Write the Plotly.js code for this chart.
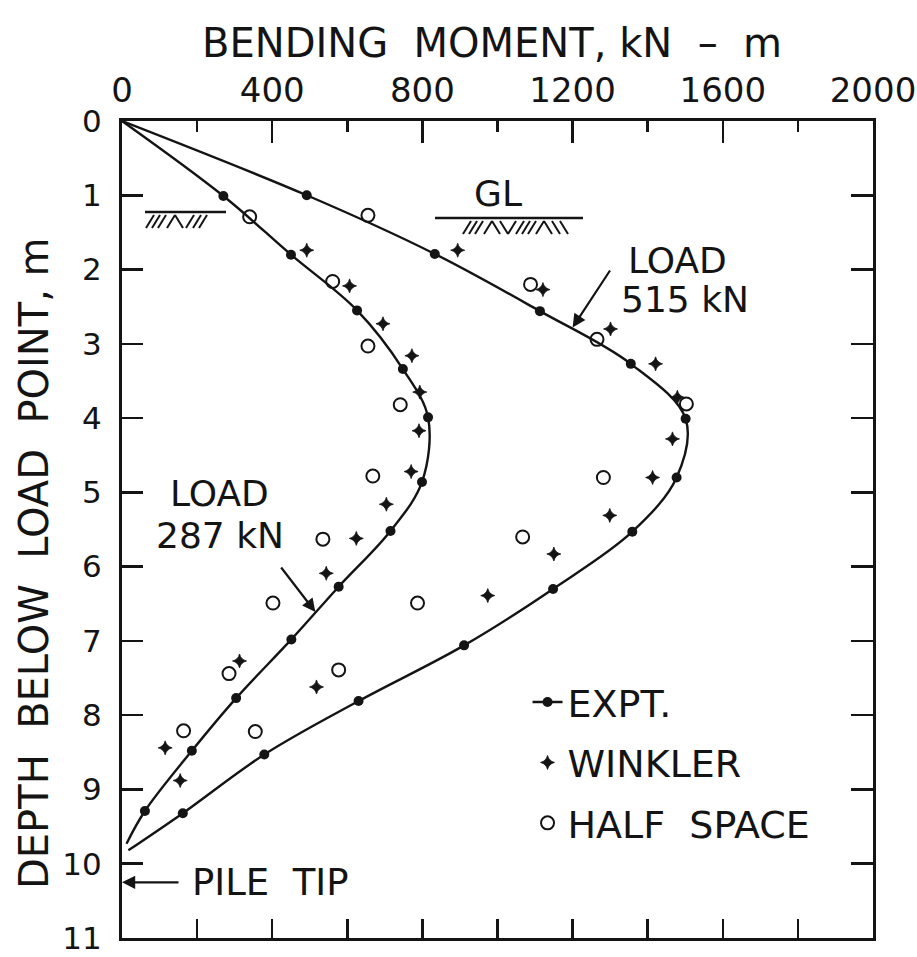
<!DOCTYPE html>
<html>
<head>
<meta charset="utf-8">
<script src="https://cdn.plot.ly/plotly-3.0.1.min.js"></script>
<style>
  html, body { margin: 0; padding: 0; background: #fff; }
  #chart { width: 917px; height: 957px; }
</style>
</head>
<body>
<div id="chart"></div>
<script>
// ---------------- data ----------------
// bending moment in kN-m, depth below load point in m
const curveStart = [0, 0];            // both measured curves start at the load point
const tip287 = [12, 9.73];            // end of the 287 kN curve
const tip515 = [17, 9.82];            // end of the 515 kN curve

const expt287M = [270, 450, 626, 748, 815, 799, 715, 577, 451, 304, 186, 61];
const expt287D = [1.01, 1.80, 2.55, 3.34, 3.99, 4.86, 5.52, 6.27, 6.98, 7.77, 8.48, 9.29];

const expt515M = [492, 833, 1113, 1355, 1501, 1477, 1359, 1148, 911, 630, 379, 162];
const expt515D = [1.00, 1.79, 2.56, 3.27, 4.01, 4.80, 5.53, 6.30, 7.06, 7.81, 8.53, 9.32];

const wink287M = [492, 606, 695, 772, 793, 791, 770, 704, 624, 544, 313, 115, 155];
const wink287D = [1.74, 2.22, 2.73, 3.16, 3.65, 4.17, 4.72, 5.16, 5.62, 6.09, 7.27, 8.44, 8.88];

const wink515M = [894, 1121, 1301, 1421, 1479, 1466, 1413, 1299, 1150, 974, 518];
const wink515D = [1.74, 2.27, 2.80, 3.27, 3.72, 4.28, 4.80, 5.31, 5.83, 6.39, 7.62];

const half287M = [340, 561, 655, 741, 668, 535, 402, 285, 164];
const half287D = [1.29, 2.16, 3.03, 3.82, 4.78, 5.63, 6.49, 7.44, 8.21];

const half515M = [655, 1088, 1265, 1503, 1282, 1067, 787, 577, 355];
const half515D = [1.27, 2.20, 2.94, 3.81, 4.80, 5.60, 6.49, 7.39, 8.22];

const pileTipDepth = 10.25;
const xTickVals = [0, 400, 800, 1200, 1600, 2000];
const yTickVals = [0, 1, 2, 3, 4, 5, 6, 7, 8, 9, 10, 11];
const legendNames = ['EXPT.', 'WINKLER', 'HALF  SPACE'];
const xTitle = 'BENDING  MOMENT, kN  –  m';
const yTitle = 'DEPTH  BELOW  LOAD  POINT, m';

// ---------------- styling ----------------
const FONT = 'DejaVu Sans, Liberation Sans, Arial, sans-serif';
const INK = '#141414';
const X_RANGE = [0, 2000];
const Y_RANGE = [11, 0];

const L = 122, R = 873, T = 121, B = 938;   // plot area in px
const W = 917, H = 957;
const px2x = p => (p - L) / (R - L) * (X_RANGE[1] - X_RANGE[0]);
const py2y = p => (p - T) / (B - T) * (Y_RANGE[0] - Y_RANGE[1]);
const px2paperX = p => (p - L) / (R - L);
const py2paperY = p => 1 - (p - T) / (B - T);

const lineStyle = { color: INK, width: 2.4, shape: 'spline', smoothing: 1 };
const dotMarker = { symbol: 'circle', size: 10, color: INK };
const plusMarker = { symbol: 'star-diamond', size: 10, color: INK, line: { width: 0.8, color: INK } };
const openMarker = { symbol: 'circle-open', size: 13, color: INK, line: { width: 2, color: INK } };

function withEnds(arr, start, end, i) {
  return [start[i]].concat(arr, [end[i]]);
}

const traces = [
  // measured curves
  { x: withEnds(expt287M, curveStart, tip287, 0), y: withEnds(expt287D, curveStart, tip287, 1),
    mode: 'lines', line: lineStyle, showlegend: false, hoverinfo: 'skip' },
  { x: withEnds(expt515M, curveStart, tip515, 0), y: withEnds(expt515D, curveStart, tip515, 1),
    mode: 'lines', line: lineStyle, showlegend: false, hoverinfo: 'skip' },
  { x: expt287M, y: expt287D, mode: 'markers', marker: dotMarker, showlegend: false },
  { x: expt515M, y: expt515D, mode: 'markers', marker: dotMarker, showlegend: false },
  // Winkler
  { x: wink287M, y: wink287D, mode: 'markers', marker: plusMarker, showlegend: false },
  { x: wink515M, y: wink515D, mode: 'markers', marker: plusMarker, showlegend: false },
  // half space
  { x: half287M, y: half287D, mode: 'markers', marker: openMarker, showlegend: false },
  { x: half515M, y: half515D, mode: 'markers', marker: openMarker, showlegend: false },
  // legend entries
  { x: [null], y: [null], xaxis: 'x2', yaxis: 'y2', name: legendNames[0], mode: 'lines+markers',
    line: { color: INK, width: 2.4 }, marker: dotMarker, legendgroup: 'a' },
  { x: [null], y: [null], xaxis: 'x2', yaxis: 'y2', name: legendNames[1], mode: 'markers',
    marker: plusMarker, legendgroup: 'b' },
  { x: [null], y: [null], xaxis: 'x2', yaxis: 'y2', name: legendNames[2], mode: 'markers',
    marker: openMarker, legendgroup: 'c' }
];

// ground-level symbols (decoration)
const shapes = [];
function groundLine(x0, x1, ypx, strokes) {
  shapes.push({ type: 'line', xref: 'x', yref: 'y', x0: px2x(x0), x1: px2x(x1), y0: py2y(ypx), y1: py2y(ypx),
    line: { color: INK, width: 2.4 } });
  strokes.forEach(s => {
    const xs = s[1];
    const top = ypx + 3, bot = ypx + 16;
    let a, b;
    if (s[0] === '/') { a = [xs, bot]; b = [xs + 8, top]; } else { a = [xs, top]; b = [xs + 8, bot]; }
    shapes.push({ type: 'line', xref: 'x', yref: 'y', x0: px2x(a[0]), y0: py2y(a[1]), x1: px2x(b[0]), y1: py2y(b[1]),
      line: { color: INK, width: 2 } });
  });
}
groundLine(145, 226, 212, [['/', 146], ['/', 152], ['/', 158], ['/', 167], ['\\', 175], ['/', 186], ['/', 193], ['/', 199]]);
groundLine(435, 583, 218, [['/', 463], ['/', 469], ['/', 475], ['/', 484], ['\\', 492], ['\\', 500], ['/', 508],
  ['/', 516], ['/', 522], ['/', 528], ['/', 536], ['\\', 544], ['\\', 552], ['\\', 560]]);

const annFont = { family: FONT, size: 36, color: INK };
const titleFont = { family: FONT, size: 40, color: INK };
const annotations = [
  { x: px2paperX(492), y: py2paperY(43), xref: 'paper', yref: 'paper', text: xTitle, showarrow: false,
    font: titleFont, xanchor: 'center', yanchor: 'middle' },
  { x: px2paperX(34), y: py2paperY(563), xref: 'paper', yref: 'paper', text: yTitle, showarrow: false,
    font: titleFont, textangle: -90, xanchor: 'center', yanchor: 'middle' },
  { x: px2x(498), y: py2y(193), xref: 'x', yref: 'y', text: 'GL', showarrow: false, font: annFont },
  { x: px2x(677), y: py2y(260), xref: 'x', yref: 'y', text: 'LOAD', showarrow: false, font: annFont },
  { x: px2x(685), y: py2y(299), xref: 'x', yref: 'y', text: '515 kN', showarrow: false, font: annFont },
  { x: px2x(219), y: py2y(493), xref: 'x', yref: 'y', text: 'LOAD', showarrow: false, font: annFont },
  { x: px2x(220), y: py2y(535), xref: 'x', yref: 'y', text: '287 kN', showarrow: false, font: annFont },
  { x: px2x(190), y: pileTipDepth, xref: 'x', yref: 'y', text: 'PILE  TIP', xanchor: 'left', showarrow: false,
    font: { family: FONT, size: 37, color: INK } },
  // arrows
  { x: 1200, y: 2.78, xref: 'x', yref: 'y', ax: px2x(611), ay: py2y(269), axref: 'x', ayref: 'y',
    text: '', showarrow: true, arrowhead: 2, arrowsize: 1.2, arrowwidth: 2.2, arrowcolor: INK },
  { x: 515, y: 6.61, xref: 'x', yref: 'y', ax: px2x(280), ay: py2y(566), axref: 'x', ayref: 'y',
    text: '', showarrow: true, arrowhead: 2, arrowsize: 1.2, arrowwidth: 2.2, arrowcolor: INK },
  { x: 0, y: pileTipDepth, xref: 'x', yref: 'y', ax: px2x(180), ay: pileTipDepth, axref: 'x', ayref: 'y',
    text: '', showarrow: true, arrowhead: 2, arrowsize: 1.2, arrowwidth: 2.2, arrowcolor: INK }
];

const layout = {
  width: W, height: H,
  margin: { l: L, r: W - R, t: T, b: H - B, pad: 0 },
  paper_bgcolor: '#fff', plot_bgcolor: '#fff',
  font: { family: FONT, color: INK },
  showlegend: true,
  legend: { x: 0.54, y: 0.327, xanchor: 'left', yanchor: 'top', bgcolor: 'rgba(0,0,0,0)',
    font: { family: FONT, size: 38, color: INK }, traceorder: 'grouped', tracegroupgap: 8 },
  xaxis: {
    side: 'top', range: X_RANGE, tickmode: 'array', tickvals: xTickVals,
    ticks: 'inside', ticklen: 22, tickwidth: 2.5, tickcolor: INK,
    minor: { dtick: 200, tick0: 0, ticks: 'inside', ticklen: 11, tickwidth: 2.5, tickcolor: INK, showgrid: false },
    showline: true, linewidth: 3, linecolor: INK, showgrid: false, zeroline: false,
    tickfont: { family: FONT, size: 34, color: INK }, ticklabelstandoff: 2, ticklabeloverflow: 'allow'
  },
  xaxis2: {
    overlaying: 'x', side: 'bottom', anchor: 'y', range: X_RANGE, tick0: 0, dtick: 200,
    ticks: 'inside', ticklen: 19, tickwidth: 2.5, tickcolor: INK, showticklabels: false,
    showline: true, linewidth: 3, linecolor: INK, showgrid: false, zeroline: false
  },
  yaxis: {
    range: Y_RANGE, tickmode: 'array', tickvals: yTickVals,
    ticks: 'inside', ticklen: 21, tickwidth: 2.5, tickcolor: INK,
    showline: true, linewidth: 3, linecolor: INK, showgrid: false, zeroline: false,
    tickfont: { family: FONT, size: 31, color: INK }, ticklabelstandoff: 11, ticklabeloverflow: 'allow'
  },
  yaxis2: {
    overlaying: 'y', side: 'right', anchor: 'x', range: Y_RANGE, tick0: 0, dtick: 1,
    ticks: 'inside', ticklen: 22, tickwidth: 2.5, tickcolor: INK, showticklabels: false,
    showline: true, linewidth: 3, linecolor: INK, showgrid: false, zeroline: false
  },
  shapes: shapes,
  annotations: annotations
};

Plotly.newPlot('chart', traces, layout, { displayModeBar: false, staticPlot: true });
</script>
</body>
</html>
